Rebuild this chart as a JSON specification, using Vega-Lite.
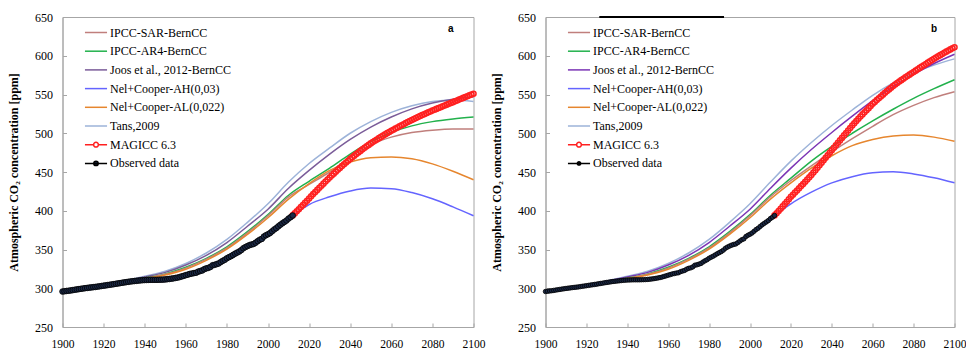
{
"$schema":"https://vega.github.io/schema/vega-lite/v6.json",
"background":"white",
"padding":{"left":6.5,"top":10,"right":0,"bottom":0},
"bounds":"flush",
"spacing":72,
"config":{
 "view":{"stroke":"#a6a6a6","strokeWidth":1},
 "axis":{"grid":false,"domainColor":"#a6a6a6","tickColor":"#a6a6a6","tickSize":-4,"labelFont":"Liberation Serif","labelFontSize":12,"labelColor":"#000","labelOverlap":false,"labelFlush":false,"titleFont":"Liberation Serif","titleFontSize":12,"titleFontWeight":"bold","titleColor":"#000"},
 "axisX":{"labelPadding":15,"labelFontSize":11.5},
 "axisY":{"labelPadding":14,"titlePadding":14.5},
 "legend":{"orient":"none","legendX":24,"legendY":6,"title":null,"padding":0,"labelFont":"Liberation Serif","labelFontSize":12,"labelColor":"#000","labelLimit":300,"symbolSize":289,"symbolStrokeWidth":1.5,"rowPadding":2.7,"labelOffset":4.5}
},
"resolve":{"scale":{"color":"independent"},"legend":{"color":"independent"}},
"datasets":{
"models":[
{"p":"h","s":"Tans,2009","yr":1900,"v":296},{"p":"h","s":"Tans,2009","yr":1910,"v":300},{"p":"h","s":"Tans,2009","yr":1920,"v":304.5},{"p":"h","s":"Tans,2009","yr":1930,"v":309.5},{"p":"h","s":"Tans,2009","yr":1940,"v":315.5},{"p":"h","s":"Tans,2009","yr":1950,"v":322},{"p":"h","s":"Tans,2009","yr":1960,"v":332},{"p":"h","s":"Tans,2009","yr":1970,"v":345.5},{"p":"h","s":"Tans,2009","yr":1980,"v":363},{"p":"h","s":"Tans,2009","yr":1990,"v":385},{"p":"h","s":"Tans,2009","yr":2000,"v":409},{"p":"h","s":"Tans,2009","yr":2010,"v":437},
{"p":"h","s":"Joos et al., 2012-BernCC","yr":1900,"v":296},{"p":"h","s":"Joos et al., 2012-BernCC","yr":1910,"v":299.8},{"p":"h","s":"Joos et al., 2012-BernCC","yr":1920,"v":304},{"p":"h","s":"Joos et al., 2012-BernCC","yr":1930,"v":309},{"p":"h","s":"Joos et al., 2012-BernCC","yr":1940,"v":314.5},{"p":"h","s":"Joos et al., 2012-BernCC","yr":1950,"v":320.5},{"p":"h","s":"Joos et al., 2012-BernCC","yr":1960,"v":330},{"p":"h","s":"Joos et al., 2012-BernCC","yr":1970,"v":342.5},{"p":"h","s":"Joos et al., 2012-BernCC","yr":1980,"v":359},{"p":"h","s":"Joos et al., 2012-BernCC","yr":1990,"v":380},{"p":"h","s":"Joos et al., 2012-BernCC","yr":2000,"v":402},{"p":"h","s":"Joos et al., 2012-BernCC","yr":2010,"v":429},
{"p":"h","s":"IPCC-AR4-BernCC","yr":1900,"v":296},{"p":"h","s":"IPCC-AR4-BernCC","yr":1910,"v":299.6},{"p":"h","s":"IPCC-AR4-BernCC","yr":1920,"v":303.5},{"p":"h","s":"IPCC-AR4-BernCC","yr":1930,"v":308.3},{"p":"h","s":"IPCC-AR4-BernCC","yr":1940,"v":313.2},{"p":"h","s":"IPCC-AR4-BernCC","yr":1950,"v":318.5},{"p":"h","s":"IPCC-AR4-BernCC","yr":1960,"v":327},{"p":"h","s":"IPCC-AR4-BernCC","yr":1970,"v":338.5},{"p":"h","s":"IPCC-AR4-BernCC","yr":1980,"v":353.5},{"p":"h","s":"IPCC-AR4-BernCC","yr":1990,"v":373},{"p":"h","s":"IPCC-AR4-BernCC","yr":2000,"v":395},{"p":"h","s":"IPCC-AR4-BernCC","yr":2010,"v":420},
{"p":"h","s":"IPCC-SAR-BernCC","yr":1900,"v":296},{"p":"h","s":"IPCC-SAR-BernCC","yr":1910,"v":299.5},{"p":"h","s":"IPCC-SAR-BernCC","yr":1920,"v":303.3},{"p":"h","s":"IPCC-SAR-BernCC","yr":1930,"v":308},{"p":"h","s":"IPCC-SAR-BernCC","yr":1940,"v":312.8},{"p":"h","s":"IPCC-SAR-BernCC","yr":1950,"v":318},{"p":"h","s":"IPCC-SAR-BernCC","yr":1960,"v":326},{"p":"h","s":"IPCC-SAR-BernCC","yr":1970,"v":337.5},{"p":"h","s":"IPCC-SAR-BernCC","yr":1980,"v":352},{"p":"h","s":"IPCC-SAR-BernCC","yr":1990,"v":371.5},{"p":"h","s":"IPCC-SAR-BernCC","yr":2000,"v":393.5},{"p":"h","s":"IPCC-SAR-BernCC","yr":2010,"v":418},
{"p":"h","s":"Nel+Cooper-AL(0,022)","yr":1900,"v":296},{"p":"h","s":"Nel+Cooper-AL(0,022)","yr":1910,"v":299.5},{"p":"h","s":"Nel+Cooper-AL(0,022)","yr":1920,"v":303.2},{"p":"h","s":"Nel+Cooper-AL(0,022)","yr":1930,"v":307.8},{"p":"h","s":"Nel+Cooper-AL(0,022)","yr":1940,"v":312.3},{"p":"h","s":"Nel+Cooper-AL(0,022)","yr":1950,"v":317},{"p":"h","s":"Nel+Cooper-AL(0,022)","yr":1960,"v":324.5},{"p":"h","s":"Nel+Cooper-AL(0,022)","yr":1970,"v":336},{"p":"h","s":"Nel+Cooper-AL(0,022)","yr":1980,"v":350.5},{"p":"h","s":"Nel+Cooper-AL(0,022)","yr":1990,"v":369.5},{"p":"h","s":"Nel+Cooper-AL(0,022)","yr":2000,"v":391},{"p":"h","s":"Nel+Cooper-AL(0,022)","yr":2010,"v":415},
{"p":"h","s":"Nel+Cooper-AH(0,03)","yr":1900,"v":296},{"p":"h","s":"Nel+Cooper-AH(0,03)","yr":1910,"v":299.5},{"p":"h","s":"Nel+Cooper-AH(0,03)","yr":1920,"v":303},{"p":"h","s":"Nel+Cooper-AH(0,03)","yr":1930,"v":307},{"p":"h","s":"Nel+Cooper-AH(0,03)","yr":1940,"v":309.5},{"p":"h","s":"Nel+Cooper-AH(0,03)","yr":1950,"v":311.5},{"p":"h","s":"Nel+Cooper-AH(0,03)","yr":1960,"v":317},{"p":"h","s":"Nel+Cooper-AH(0,03)","yr":1970,"v":325.5},{"p":"h","s":"Nel+Cooper-AH(0,03)","yr":1980,"v":338.5},{"p":"h","s":"Nel+Cooper-AH(0,03)","yr":1990,"v":354},{"p":"h","s":"Nel+Cooper-AH(0,03)","yr":2000,"v":369.5},{"p":"h","s":"Nel+Cooper-AH(0,03)","yr":2010,"v":389.5},{"p":"h","s":"Nel+Cooper-AH(0,03)","yr":2012,"v":393.6},
{"p":"a","s":"Tans,2009","yr":2020,"v":461},{"p":"a","s":"Tans,2009","yr":2030,"v":481},{"p":"a","s":"Tans,2009","yr":2040,"v":500},{"p":"a","s":"Tans,2009","yr":2050,"v":515},{"p":"a","s":"Tans,2009","yr":2060,"v":527},{"p":"a","s":"Tans,2009","yr":2070,"v":535.5},{"p":"a","s":"Tans,2009","yr":2080,"v":541},{"p":"a","s":"Tans,2009","yr":2090,"v":543},{"p":"a","s":"Tans,2009","yr":2100,"v":541},
{"p":"a","s":"Joos et al., 2012-BernCC","yr":2020,"v":452},{"p":"a","s":"Joos et al., 2012-BernCC","yr":2030,"v":473},{"p":"a","s":"Joos et al., 2012-BernCC","yr":2040,"v":492},{"p":"a","s":"Joos et al., 2012-BernCC","yr":2050,"v":508},{"p":"a","s":"Joos et al., 2012-BernCC","yr":2060,"v":521},{"p":"a","s":"Joos et al., 2012-BernCC","yr":2070,"v":531.5},{"p":"a","s":"Joos et al., 2012-BernCC","yr":2080,"v":539},{"p":"a","s":"Joos et al., 2012-BernCC","yr":2090,"v":544},{"p":"a","s":"Joos et al., 2012-BernCC","yr":2100,"v":547},
{"p":"a","s":"IPCC-AR4-BernCC","yr":2020,"v":438},{"p":"a","s":"IPCC-AR4-BernCC","yr":2030,"v":455},{"p":"a","s":"IPCC-AR4-BernCC","yr":2040,"v":473},{"p":"a","s":"IPCC-AR4-BernCC","yr":2050,"v":489},{"p":"a","s":"IPCC-AR4-BernCC","yr":2060,"v":501},{"p":"a","s":"IPCC-AR4-BernCC","yr":2070,"v":509.5},{"p":"a","s":"IPCC-AR4-BernCC","yr":2080,"v":515},{"p":"a","s":"IPCC-AR4-BernCC","yr":2090,"v":518.5},{"p":"a","s":"IPCC-AR4-BernCC","yr":2100,"v":521},
{"p":"a","s":"IPCC-SAR-BernCC","yr":2020,"v":434},{"p":"a","s":"IPCC-SAR-BernCC","yr":2030,"v":450},{"p":"a","s":"IPCC-SAR-BernCC","yr":2040,"v":469},{"p":"a","s":"IPCC-SAR-BernCC","yr":2050,"v":485},{"p":"a","s":"IPCC-SAR-BernCC","yr":2060,"v":495},{"p":"a","s":"IPCC-SAR-BernCC","yr":2070,"v":501},{"p":"a","s":"IPCC-SAR-BernCC","yr":2080,"v":504},{"p":"a","s":"IPCC-SAR-BernCC","yr":2090,"v":505.5},{"p":"a","s":"IPCC-SAR-BernCC","yr":2100,"v":505.5},
{"p":"a","s":"Nel+Cooper-AL(0,022)","yr":2020,"v":435},{"p":"a","s":"Nel+Cooper-AL(0,022)","yr":2030,"v":452},{"p":"a","s":"Nel+Cooper-AL(0,022)","yr":2040,"v":463},{"p":"a","s":"Nel+Cooper-AL(0,022)","yr":2050,"v":468.5},{"p":"a","s":"Nel+Cooper-AL(0,022)","yr":2060,"v":469.5},{"p":"a","s":"Nel+Cooper-AL(0,022)","yr":2070,"v":467},{"p":"a","s":"Nel+Cooper-AL(0,022)","yr":2080,"v":460.5},{"p":"a","s":"Nel+Cooper-AL(0,022)","yr":2090,"v":451},{"p":"a","s":"Nel+Cooper-AL(0,022)","yr":2100,"v":440},
{"p":"a","s":"Nel+Cooper-AH(0,03)","yr":2020,"v":408},{"p":"a","s":"Nel+Cooper-AH(0,03)","yr":2030,"v":418},{"p":"a","s":"Nel+Cooper-AH(0,03)","yr":2040,"v":425.5},{"p":"a","s":"Nel+Cooper-AH(0,03)","yr":2050,"v":429.3},{"p":"a","s":"Nel+Cooper-AH(0,03)","yr":2060,"v":428.5},{"p":"a","s":"Nel+Cooper-AH(0,03)","yr":2070,"v":423.5},{"p":"a","s":"Nel+Cooper-AH(0,03)","yr":2080,"v":415.5},{"p":"a","s":"Nel+Cooper-AH(0,03)","yr":2090,"v":405},{"p":"a","s":"Nel+Cooper-AH(0,03)","yr":2100,"v":393.5},
{"p":"b","s":"Tans,2009","yr":2020,"v":464},{"p":"b","s":"Tans,2009","yr":2030,"v":488},{"p":"b","s":"Tans,2009","yr":2040,"v":510},{"p":"b","s":"Tans,2009","yr":2050,"v":530},{"p":"b","s":"Tans,2009","yr":2060,"v":549},{"p":"b","s":"Tans,2009","yr":2070,"v":565},{"p":"b","s":"Tans,2009","yr":2080,"v":578},{"p":"b","s":"Tans,2009","yr":2090,"v":588},{"p":"b","s":"Tans,2009","yr":2100,"v":596},
{"p":"b","s":"Joos et al., 2012-BernCC","yr":2020,"v":455},{"p":"b","s":"Joos et al., 2012-BernCC","yr":2030,"v":479},{"p":"b","s":"Joos et al., 2012-BernCC","yr":2040,"v":501},{"p":"b","s":"Joos et al., 2012-BernCC","yr":2050,"v":522},{"p":"b","s":"Joos et al., 2012-BernCC","yr":2060,"v":542},{"p":"b","s":"Joos et al., 2012-BernCC","yr":2070,"v":560},{"p":"b","s":"Joos et al., 2012-BernCC","yr":2080,"v":576},{"p":"b","s":"Joos et al., 2012-BernCC","yr":2090,"v":590},{"p":"b","s":"Joos et al., 2012-BernCC","yr":2100,"v":602},
{"p":"b","s":"IPCC-AR4-BernCC","yr":2020,"v":442},{"p":"b","s":"IPCC-AR4-BernCC","yr":2030,"v":464},{"p":"b","s":"IPCC-AR4-BernCC","yr":2040,"v":483},{"p":"b","s":"IPCC-AR4-BernCC","yr":2050,"v":500},{"p":"b","s":"IPCC-AR4-BernCC","yr":2060,"v":516},{"p":"b","s":"IPCC-AR4-BernCC","yr":2070,"v":531},{"p":"b","s":"IPCC-AR4-BernCC","yr":2080,"v":545},{"p":"b","s":"IPCC-AR4-BernCC","yr":2090,"v":557.5},{"p":"b","s":"IPCC-AR4-BernCC","yr":2100,"v":569},
{"p":"b","s":"IPCC-SAR-BernCC","yr":2020,"v":439},{"p":"b","s":"IPCC-SAR-BernCC","yr":2030,"v":458},{"p":"b","s":"IPCC-SAR-BernCC","yr":2040,"v":476},{"p":"b","s":"IPCC-SAR-BernCC","yr":2050,"v":493},{"p":"b","s":"IPCC-SAR-BernCC","yr":2060,"v":509},{"p":"b","s":"IPCC-SAR-BernCC","yr":2070,"v":524},{"p":"b","s":"IPCC-SAR-BernCC","yr":2080,"v":536},{"p":"b","s":"IPCC-SAR-BernCC","yr":2090,"v":546},{"p":"b","s":"IPCC-SAR-BernCC","yr":2100,"v":553.6},
{"p":"b","s":"Nel+Cooper-AL(0,022)","yr":2020,"v":436},{"p":"b","s":"Nel+Cooper-AL(0,022)","yr":2030,"v":455},{"p":"b","s":"Nel+Cooper-AL(0,022)","yr":2040,"v":471},{"p":"b","s":"Nel+Cooper-AL(0,022)","yr":2050,"v":484},{"p":"b","s":"Nel+Cooper-AL(0,022)","yr":2060,"v":492},{"p":"b","s":"Nel+Cooper-AL(0,022)","yr":2070,"v":496.5},{"p":"b","s":"Nel+Cooper-AL(0,022)","yr":2080,"v":497.7},{"p":"b","s":"Nel+Cooper-AL(0,022)","yr":2090,"v":495},{"p":"b","s":"Nel+Cooper-AL(0,022)","yr":2100,"v":489.6},
{"p":"b","s":"Nel+Cooper-AH(0,03)","yr":2020,"v":409},{"p":"b","s":"Nel+Cooper-AH(0,03)","yr":2030,"v":424},{"p":"b","s":"Nel+Cooper-AH(0,03)","yr":2040,"v":436},{"p":"b","s":"Nel+Cooper-AH(0,03)","yr":2050,"v":444},{"p":"b","s":"Nel+Cooper-AH(0,03)","yr":2060,"v":449},{"p":"b","s":"Nel+Cooper-AH(0,03)","yr":2070,"v":450.3},{"p":"b","s":"Nel+Cooper-AH(0,03)","yr":2080,"v":447.5},{"p":"b","s":"Nel+Cooper-AH(0,03)","yr":2090,"v":442.5},{"p":"b","s":"Nel+Cooper-AH(0,03)","yr":2100,"v":436}
],
"magicc":[
{"p":"a","yr":2012,"v":394.0},{"p":"a","yr":2013,"v":396.6},{"p":"a","yr":2014,"v":399.3},{"p":"a","yr":2015,"v":402.0},{"p":"a","yr":2016,"v":404.7},{"p":"a","yr":2017,"v":407.4},{"p":"a","yr":2018,"v":410.2},{"p":"a","yr":2019,"v":413.0},{"p":"a","yr":2020,"v":415.9},{"p":"a","yr":2021,"v":418.7},{"p":"a","yr":2022,"v":421.5},{"p":"a","yr":2023,"v":424.2},{"p":"a","yr":2024,"v":426.9},{"p":"a","yr":2025,"v":429.6},{"p":"a","yr":2026,"v":432.3},{"p":"a","yr":2027,"v":435.0},{"p":"a","yr":2028,"v":437.7},{"p":"a","yr":2029,"v":440.3},{"p":"a","yr":2030,"v":442.9},{"p":"a","yr":2031,"v":445.4},{"p":"a","yr":2032,"v":447.9},{"p":"a","yr":2033,"v":450.4},{"p":"a","yr":2034,"v":452.8},{"p":"a","yr":2035,"v":455.2},{"p":"a","yr":2036,"v":457.6},{"p":"a","yr":2037,"v":460.0},{"p":"a","yr":2038,"v":462.3},{"p":"a","yr":2039,"v":464.6},{"p":"a","yr":2040,"v":466.9},{"p":"a","yr":2041,"v":469.0},{"p":"a","yr":2042,"v":471.1},{"p":"a","yr":2043,"v":473.2},{"p":"a","yr":2044,"v":475.2},{"p":"a","yr":2045,"v":477.2},{"p":"a","yr":2046,"v":479.2},{"p":"a","yr":2047,"v":481.2},{"p":"a","yr":2048,"v":483.1},{"p":"a","yr":2049,"v":485.0},{"p":"a","yr":2050,"v":486.9},{"p":"a","yr":2051,"v":488.6},{"p":"a","yr":2052,"v":490.3},{"p":"a","yr":2053,"v":492.0},{"p":"a","yr":2054,"v":493.7},{"p":"a","yr":2055,"v":495.3},{"p":"a","yr":2056,"v":496.9},{"p":"a","yr":2057,"v":498.5},{"p":"a","yr":2058,"v":500.1},{"p":"a","yr":2059,"v":501.6},{"p":"a","yr":2060,"v":503.1},{"p":"a","yr":2061,"v":504.6},{"p":"a","yr":2062,"v":506.0},{"p":"a","yr":2063,"v":507.5},{"p":"a","yr":2064,"v":508.9},{"p":"a","yr":2065,"v":510.3},{"p":"a","yr":2066,"v":511.7},{"p":"a","yr":2067,"v":513.1},{"p":"a","yr":2068,"v":514.5},{"p":"a","yr":2069,"v":515.8},{"p":"a","yr":2070,"v":517.1},{"p":"a","yr":2071,"v":518.4},{"p":"a","yr":2072,"v":519.7},{"p":"a","yr":2073,"v":520.9},{"p":"a","yr":2074,"v":522.2},{"p":"a","yr":2075,"v":523.4},{"p":"a","yr":2076,"v":524.6},{"p":"a","yr":2077,"v":525.8},{"p":"a","yr":2078,"v":527.0},{"p":"a","yr":2079,"v":528.1},{"p":"a","yr":2080,"v":529.2},{"p":"a","yr":2081,"v":530.3},{"p":"a","yr":2082,"v":531.4},{"p":"a","yr":2083,"v":532.5},{"p":"a","yr":2084,"v":533.6},{"p":"a","yr":2085,"v":534.7},{"p":"a","yr":2086,"v":535.8},{"p":"a","yr":2087,"v":536.9},{"p":"a","yr":2088,"v":538.0},{"p":"a","yr":2089,"v":539.0},{"p":"a","yr":2090,"v":540.1},{"p":"a","yr":2091,"v":541.2},{"p":"a","yr":2092,"v":542.3},{"p":"a","yr":2093,"v":543.4},{"p":"a","yr":2094,"v":544.5},{"p":"a","yr":2095,"v":545.6},{"p":"a","yr":2096,"v":546.7},{"p":"a","yr":2097,"v":547.8},{"p":"a","yr":2098,"v":548.9},{"p":"a","yr":2099,"v":549.9},{"p":"a","yr":2100,"v":551.0},
{"p":"b","yr":2012,"v":394.0},{"p":"b","yr":2013,"v":396.8},{"p":"b","yr":2014,"v":399.7},{"p":"b","yr":2015,"v":402.6},{"p":"b","yr":2016,"v":405.6},{"p":"b","yr":2017,"v":408.6},{"p":"b","yr":2018,"v":411.7},{"p":"b","yr":2019,"v":414.8},{"p":"b","yr":2020,"v":418.0},{"p":"b","yr":2021,"v":420.7},{"p":"b","yr":2022,"v":423.4},{"p":"b","yr":2023,"v":426.2},{"p":"b","yr":2024,"v":429.0},{"p":"b","yr":2025,"v":431.8},{"p":"b","yr":2026,"v":434.6},{"p":"b","yr":2027,"v":437.4},{"p":"b","yr":2028,"v":440.3},{"p":"b","yr":2029,"v":443.1},{"p":"b","yr":2030,"v":446.0},{"p":"b","yr":2031,"v":449.2},{"p":"b","yr":2032,"v":452.4},{"p":"b","yr":2033,"v":455.6},{"p":"b","yr":2034,"v":458.8},{"p":"b","yr":2035,"v":462.0},{"p":"b","yr":2036,"v":465.2},{"p":"b","yr":2037,"v":468.4},{"p":"b","yr":2038,"v":471.6},{"p":"b","yr":2039,"v":474.8},{"p":"b","yr":2040,"v":478.0},{"p":"b","yr":2041,"v":481.2},{"p":"b","yr":2042,"v":484.4},{"p":"b","yr":2043,"v":487.6},{"p":"b","yr":2044,"v":490.8},{"p":"b","yr":2045,"v":494.0},{"p":"b","yr":2046,"v":497.2},{"p":"b","yr":2047,"v":500.4},{"p":"b","yr":2048,"v":503.6},{"p":"b","yr":2049,"v":506.8},{"p":"b","yr":2050,"v":510.0},{"p":"b","yr":2051,"v":512.9},{"p":"b","yr":2052,"v":515.8},{"p":"b","yr":2053,"v":518.7},{"p":"b","yr":2054,"v":521.5},{"p":"b","yr":2055,"v":524.3},{"p":"b","yr":2056,"v":527.0},{"p":"b","yr":2057,"v":529.7},{"p":"b","yr":2058,"v":532.4},{"p":"b","yr":2059,"v":535.2},{"p":"b","yr":2060,"v":538.0},{"p":"b","yr":2061,"v":540.4},{"p":"b","yr":2062,"v":542.8},{"p":"b","yr":2063,"v":545.2},{"p":"b","yr":2064,"v":547.5},{"p":"b","yr":2065,"v":549.8},{"p":"b","yr":2066,"v":552.1},{"p":"b","yr":2067,"v":554.4},{"p":"b","yr":2068,"v":556.6},{"p":"b","yr":2069,"v":558.8},{"p":"b","yr":2070,"v":561.0},{"p":"b","yr":2071,"v":562.9},{"p":"b","yr":2072,"v":564.8},{"p":"b","yr":2073,"v":566.7},{"p":"b","yr":2074,"v":568.5},{"p":"b","yr":2075,"v":570.3},{"p":"b","yr":2076,"v":572.1},{"p":"b","yr":2077,"v":573.9},{"p":"b","yr":2078,"v":575.6},{"p":"b","yr":2079,"v":577.3},{"p":"b","yr":2080,"v":579.0},{"p":"b","yr":2081,"v":580.8},{"p":"b","yr":2082,"v":582.6},{"p":"b","yr":2083,"v":584.3},{"p":"b","yr":2084,"v":586.0},{"p":"b","yr":2085,"v":587.7},{"p":"b","yr":2086,"v":589.4},{"p":"b","yr":2087,"v":591.1},{"p":"b","yr":2088,"v":592.8},{"p":"b","yr":2089,"v":594.4},{"p":"b","yr":2090,"v":596.0},{"p":"b","yr":2091,"v":597.6},{"p":"b","yr":2092,"v":599.2},{"p":"b","yr":2093,"v":600.8},{"p":"b","yr":2094,"v":602.3},{"p":"b","yr":2095,"v":603.8},{"p":"b","yr":2096,"v":605.3},{"p":"b","yr":2097,"v":606.8},{"p":"b","yr":2098,"v":608.2},{"p":"b","yr":2099,"v":609.6},{"p":"b","yr":2100,"v":611.0}
],
"obs":[
{"yr":1900,"v":295.8},{"yr":1901,"v":296.1},{"yr":1902,"v":296.5},{"yr":1903,"v":296.8},{"yr":1904,"v":297.2},{"yr":1905,"v":297.6},{"yr":1906,"v":298.1},{"yr":1907,"v":298.5},{"yr":1908,"v":298.9},{"yr":1909,"v":299.3},{"yr":1910,"v":299.7},{"yr":1911,"v":300.1},{"yr":1912,"v":300.4},{"yr":1913,"v":300.8},{"yr":1914,"v":301.1},{"yr":1915,"v":301.4},{"yr":1916,"v":301.7},{"yr":1917,"v":302.1},{"yr":1918,"v":302.5},{"yr":1919,"v":302.9},{"yr":1920,"v":303.3},{"yr":1921,"v":303.7},{"yr":1922,"v":304.1},{"yr":1923,"v":304.5},{"yr":1924,"v":304.9},{"yr":1925,"v":305.3},{"yr":1926,"v":305.8},{"yr":1927,"v":306.2},{"yr":1928,"v":306.6},{"yr":1929,"v":307.1},{"yr":1930,"v":307.5},{"yr":1931,"v":307.9},{"yr":1932,"v":308.3},{"yr":1933,"v":308.7},{"yr":1934,"v":309.0},{"yr":1935,"v":309.3},{"yr":1936,"v":309.6},{"yr":1937,"v":309.9},{"yr":1938,"v":310.2},{"yr":1939,"v":310.4},{"yr":1940,"v":310.6},{"yr":1941,"v":310.7},{"yr":1942,"v":310.8},{"yr":1943,"v":310.9},{"yr":1944,"v":310.9},{"yr":1945,"v":310.9},{"yr":1946,"v":310.9},{"yr":1947,"v":311.0},{"yr":1948,"v":311.1},{"yr":1949,"v":311.2},{"yr":1950,"v":311.4},{"yr":1951,"v":311.7},{"yr":1952,"v":312.0},{"yr":1953,"v":312.4},{"yr":1954,"v":312.8},{"yr":1955,"v":313.3},{"yr":1956,"v":313.8},{"yr":1957,"v":314.4},{"yr":1958,"v":315.3},{"yr":1959,"v":316.0},{"yr":1960,"v":316.9},{"yr":1961,"v":317.6},{"yr":1962,"v":318.5},{"yr":1963,"v":319.0},{"yr":1964,"v":319.6},{"yr":1965,"v":320.0},{"yr":1966,"v":321.4},{"yr":1967,"v":322.2},{"yr":1968,"v":323.0},{"yr":1969,"v":324.6},{"yr":1970,"v":325.7},{"yr":1971,"v":326.3},{"yr":1972,"v":327.5},{"yr":1973,"v":329.7},{"yr":1974,"v":330.2},{"yr":1975,"v":331.1},{"yr":1976,"v":332.0},{"yr":1977,"v":333.8},{"yr":1978,"v":335.4},{"yr":1979,"v":336.8},{"yr":1980,"v":338.7},{"yr":1981,"v":340.1},{"yr":1982,"v":341.4},{"yr":1983,"v":343.0},{"yr":1984,"v":344.6},{"yr":1985,"v":346.0},{"yr":1986,"v":347.4},{"yr":1987,"v":349.2},{"yr":1988,"v":351.6},{"yr":1989,"v":353.1},{"yr":1990,"v":354.4},{"yr":1991,"v":355.6},{"yr":1992,"v":356.5},{"yr":1993,"v":357.1},{"yr":1994,"v":358.8},{"yr":1995,"v":360.8},{"yr":1996,"v":362.6},{"yr":1997,"v":363.7},{"yr":1998,"v":366.7},{"yr":1999,"v":368.4},{"yr":2000,"v":369.7},{"yr":2001,"v":371.3},{"yr":2002,"v":373.5},{"yr":2003,"v":375.8},{"yr":2004,"v":377.5},{"yr":2005,"v":379.8},{"yr":2006,"v":381.9},{"yr":2007,"v":383.8},{"yr":2008,"v":385.6},{"yr":2009,"v":387.4},{"yr":2010,"v":389.9},{"yr":2011,"v":391.7},{"yr":2012,"v":393.9}
],
"tags":[{"p":"a","t":"a","yr":2089,"v":634},{"p":"b","t":"b","yr":2090,"v":634}],
"bar":[{"p":"b","yr":1926.3,"yr2":1987.3,"v":650}]
},
"hconcat":[
{
 "width":411,"height":310,
 "encoding":{
  "x":{"field":"yr","type":"quantitative","scale":{"domain":[1900,2100],"nice":false},"axis":{"values":[1900,1920,1940,1960,1980,2000,2020,2040,2060,2080,2100],"format":"d","title":null,"labelOverlap":false}},
  "y":{"field":"v","type":"quantitative","scale":{"domain":[250,650],"nice":false,"zero":false},"axis":{"values":[250,300,350,400,450,500,550,600,650],"labelOverlap":false,"title":"Atmospheric CO₂ concentration [ppm]"}}
 },
 "layer":[
  {"data":{"name":"models"},"transform":[{"filter":"datum.p==='a'||datum.p==='h'"}],
   "mark":{"type":"line","interpolate":"monotone","strokeWidth":1.5},
   "encoding":{
    "color":{"field":"s","type":"nominal","scale":{"domain":["IPCC-SAR-BernCC","IPCC-AR4-BernCC","Joos et al., 2012-BernCC","Nel+Cooper-AH(0,03)","Nel+Cooper-AL(0,022)","Tans,2009","MAGICC 6.3","Observed data"],"range":["#c07f7c","#22b14c","#7a5c99","#6464ff","#e6862e","#9db3d9","#ff2020","#000000"]},
     "legend":{"labelFont":"Liberation Serif","labelFontSize":12,"labelColor":"#000","encode":{"labels":{"update":{"font":{"value":"Liberation Serif"}}},"symbols":{"update":{"shape":{"signal":"datum.value==='MAGICC 6.3' ? 'M-1.3,0L-0.28,0M0.28,0L1.3,0M-0.28,0A0.28,0.28,0,1,1,0.28,0A0.28,0.28,0,1,1,-0.28,0Z' : datum.value==='Observed data' ? 'M-1.3,0L1.3,0M-0.26,0A0.26,0.26,0,1,1,0.26,0A0.26,0.26,0,1,1,-0.26,0Z' : 'M-1.3,0L1.3,0'"},"fill":{"signal":"datum.value==='Observed data' ? '#1c2a48' : datum.value==='MAGICC 6.3' ? '#ffffff' : 'transparent'"},"opacity":{"value":1}}}}}}
   }},
  {"data":{"name":"magicc"},"transform":[{"filter":"datum.p==='a'"}],
   "mark":{"type":"point","shape":"circle","filled":false,"color":"#ff2020","strokeWidth":1.5,"size":26,"opacity":1}},
  {"data":{"name":"obs"},"mark":{"type":"line","color":"#000000","strokeWidth":1}},
  {"data":{"name":"obs"},"mark":{"type":"point","shape":"circle","filled":true,"fill":"#1c2a48","stroke":"#000000","strokeWidth":0.8,"size":32,"opacity":1}},
  {"data":{"name":"tags"},"transform":[{"filter":"datum.p==='a'"}],
   "mark":{"type":"text","font":"Liberation Sans","fontWeight":"bold","fontSize":10,"color":"#000"},
   "encoding":{"text":{"field":"t"}}}
 ]
},
{
 "width":409,"height":310,
 "encoding":{
  "x":{"field":"yr","type":"quantitative","scale":{"domain":[1900,2100],"nice":false},"axis":{"values":[1900,1920,1940,1960,1980,2000,2020,2040,2060,2080,2100],"format":"d","title":null,"labelOverlap":false,"encode":{"labels":{"update":{"dx":{"signal":"datum.value===2100 ? -3 : 0"}}}}}},
  "y":{"field":"v","type":"quantitative","scale":{"domain":[250,650],"nice":false,"zero":false},"axis":{"values":[250,300,350,400,450,500,550,600,650],"labelOverlap":false,"title":"Atmospheric CO₂ concentration [ppm]"}}
 },
 "layer":[
  {"data":{"name":"models"},"transform":[{"filter":"datum.p==='b'||datum.p==='h'"}],
   "mark":{"type":"line","interpolate":"monotone","strokeWidth":1.5},
   "encoding":{
    "color":{"field":"s","type":"nominal","scale":{"domain":["IPCC-SAR-BernCC","IPCC-AR4-BernCC","Joos et al., 2012-BernCC","Nel+Cooper-AH(0,03)","Nel+Cooper-AL(0,022)","Tans,2009","MAGICC 6.3","Observed data"],"range":["#c07f7c","#22b14c","#7b35b5","#6464ff","#e6862e","#9db3d9","#ff2020","#000000"]},
     "legend":{"labelFont":"Liberation Serif","labelFontSize":12,"labelColor":"#000","encode":{"labels":{"update":{"font":{"value":"Liberation Serif"}}},"symbols":{"update":{"shape":{"signal":"datum.value==='MAGICC 6.3' ? 'M-1.3,0L-0.28,0M0.28,0L1.3,0M-0.28,0A0.28,0.28,0,1,1,0.28,0A0.28,0.28,0,1,1,-0.28,0Z' : datum.value==='Observed data' ? 'M-1.3,0L1.3,0M-0.2,0A0.2,0.2,0,1,1,0.2,0A0.2,0.2,0,1,1,-0.2,0Z' : 'M-1.3,0L1.3,0'"},"fill":{"signal":"datum.value==='Observed data' ? '#1c2a48' : datum.value==='MAGICC 6.3' ? '#ffffff' : 'transparent'"},"opacity":{"value":1}}}}}}
   }},
  {"data":{"name":"magicc"},"transform":[{"filter":"datum.p==='b'"}],
   "mark":{"type":"point","shape":"circle","filled":false,"color":"#ff2020","strokeWidth":1.5,"size":26,"opacity":1}},
  {"data":{"name":"obs"},"mark":{"type":"line","color":"#000000","strokeWidth":1}},
  {"data":{"name":"obs"},"mark":{"type":"point","shape":"circle","filled":true,"fill":"#1c2a48","stroke":"#000000","strokeWidth":0.8,"size":20,"opacity":1}},
  {"data":{"name":"tags"},"transform":[{"filter":"datum.p==='b'"}],
   "mark":{"type":"text","font":"Liberation Sans","fontWeight":"bold","fontSize":10,"color":"#000"},
   "encoding":{"text":{"field":"t"}}},
  {"data":{"name":"bar"},"mark":{"type":"rule","color":"#000","strokeWidth":2},
   "encoding":{"x2":{"field":"yr2"}}}
 ]
}
]
}
